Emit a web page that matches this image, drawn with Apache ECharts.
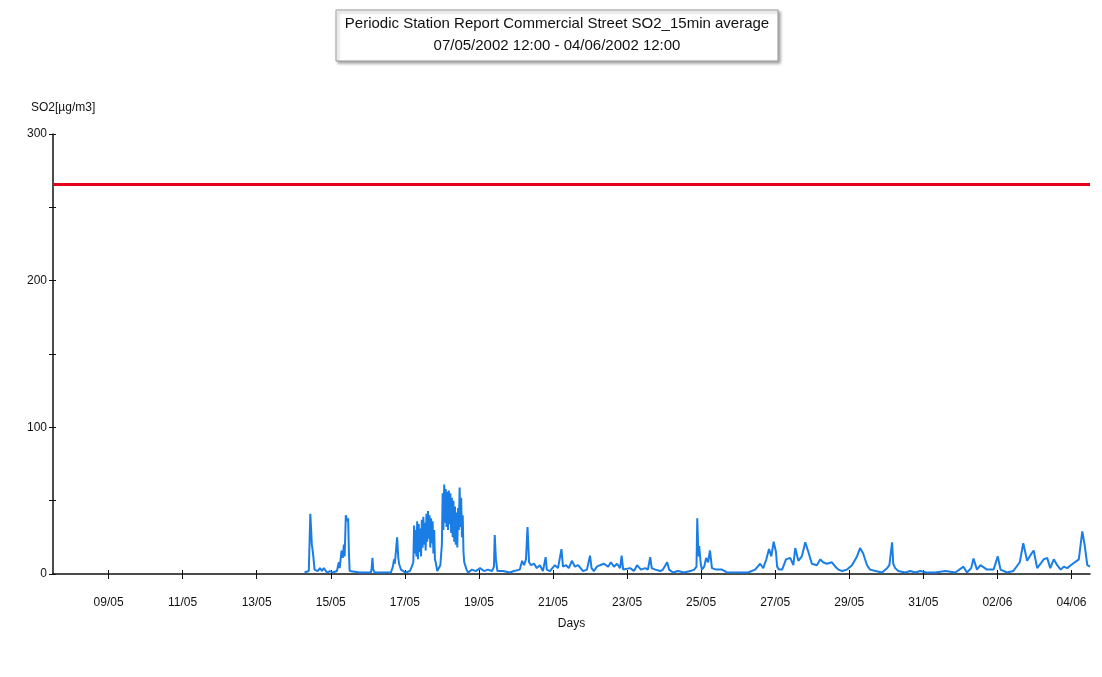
<!DOCTYPE html>
<html>
<head>
<meta charset="utf-8">
<title>Periodic Station Report Commercial Street SO2</title>
<script src="https://cdn.jsdelivr.net/npm/echarts@6/dist/echarts.min.js"></script>
<style>
  html, body { margin: 0; padding: 0; background: #ffffff; }
  #chart { width: 1102px; height: 677px; }
</style>
</head>
<body>
<div id="chart"></div>
<script>
// Report period and title
const reportTitle = 'Periodic Station Report Commercial Street SO2_15min average';
const reportPeriod = '07/05/2002 12:00 - 04/06/2002 12:00';
const periodStart = '07/05 12:00';
const periodEnd = '04/06 12:00';

// Axis labels
const yAxisName = 'SO2[µg/m3]';
const xAxisName = 'Days';
const dayTickLabels = ['09/05', '11/05', '13/05', '15/05', '17/05', '19/05', '21/05',
  '23/05', '25/05', '27/05', '29/05', '31/05', '02/06', '04/06'];

// Alert threshold (µg/m3)
const limitValue = 266;

// SO2 measurements: sample time (dd/mm hh:mm) and concentration (µg/m3)
const sampleTimes = [
  '14/05 07:00', '14/05 09:45', '14/05 10:45', '14/05 11:45', '14/05 12:30', '14/05 13:30',
  '14/05 15:30', '14/05 17:00', '14/05 18:15', '14/05 19:30', '14/05 21:30', '14/05 23:30',
  '15/05 01:15', '15/05 04:00', '15/05 05:15', '15/05 05:45', '15/05 07:00', '15/05 07:45',
  '15/05 08:30', '15/05 09:00', '15/05 09:45', '15/05 10:45', '15/05 11:15', '15/05 11:45',
  '15/05 12:15', '15/05 13:30', '15/05 18:45', '15/05 22:45',
  '16/05 02:00', '16/05 02:30', '16/05 03:00', '16/05 03:30', '16/05 04:30', '16/05 11:00',
  '16/05 15:00', '16/05 16:15', '16/05 17:00', '16/05 17:30', '16/05 19:00', '16/05 19:45',
  '16/05 20:15', '16/05 21:30', '16/05 22:45',
  '17/05 00:30', '17/05 03:15', '17/05 04:30',
  '17/05 05:30', '17/05 06:00', '17/05 06:30', '17/05 07:00', '17/05 07:30', '17/05 08:00',
  '17/05 08:30', '17/05 09:00', '17/05 09:30', '17/05 10:00', '17/05 10:30', '17/05 11:00',
  '17/05 11:30', '17/05 12:00', '17/05 12:30', '17/05 13:00', '17/05 13:30', '17/05 14:00',
  '17/05 14:30', '17/05 15:00', '17/05 15:30', '17/05 16:00', '17/05 16:30', '17/05 17:00',
  '17/05 17:30', '17/05 18:00', '17/05 18:30', '17/05 19:00', '17/05 19:30', '17/05 20:00',
  '17/05 21:00', '17/05 22:00', '17/05 23:00',
  '18/05 00:00', '18/05 00:30', '18/05 01:00', '18/05 01:30', '18/05 02:00', '18/05 02:30',
  '18/05 03:00', '18/05 03:30', '18/05 04:00', '18/05 04:30', '18/05 05:00', '18/05 05:30',
  '18/05 06:00', '18/05 06:30', '18/05 07:00', '18/05 07:30', '18/05 08:00', '18/05 08:30',
  '18/05 09:00', '18/05 09:30', '18/05 10:00', '18/05 10:30', '18/05 11:00', '18/05 11:30',
  '18/05 12:00', '18/05 12:30', '18/05 13:00', '18/05 13:30', '18/05 14:00', '18/05 14:30',
  '18/05 15:00', '18/05 16:00', '18/05 17:00', '18/05 19:30', '18/05 22:00',
  '19/05 00:45', '19/05 03:15', '19/05 05:45', '19/05 08:30', '19/05 09:45', '19/05 10:15',
  '19/05 11:00', '19/05 12:00', '19/05 15:30', '19/05 20:00', '19/05 22:45',
  '20/05 02:30', '20/05 04:00', '20/05 05:15', '20/05 06:30', '20/05 07:30', '20/05 08:30',
  '20/05 09:45', '20/05 11:45', '20/05 13:30', '20/05 15:30', '20/05 17:30', '20/05 19:15',
  '20/05 20:00', '20/05 22:00',
  '21/05 01:15', '21/05 03:15', '21/05 05:30', '21/05 06:30', '21/05 08:30', '21/05 10:15',
  '21/05 12:15', '21/05 14:15', '21/05 16:15', '21/05 19:30', '21/05 22:00', '21/05 23:15',
  '22/05 00:00', '22/05 01:00', '22/05 02:30', '22/05 04:30', '22/05 06:30', '22/05 09:00',
  '22/05 11:45', '22/05 13:30', '22/05 15:30', '22/05 17:30', '22/05 19:30', '22/05 20:30',
  '22/05 21:30', '22/05 22:45',
  '23/05 02:00', '23/05 04:30', '23/05 06:30', '23/05 09:00', '23/05 11:45', '23/05 13:30',
  '23/05 15:00', '23/05 16:00', '23/05 18:15', '23/05 21:30', '23/05 23:15',
  '24/05 02:00', '24/05 03:15', '24/05 05:45', '24/05 09:00', '24/05 13:00', '24/05 17:00',
  '24/05 19:30', '24/05 21:00', '24/05 21:30', '24/05 22:15', '24/05 22:45', '24/05 23:45',
  '25/05 00:30', '25/05 02:00', '25/05 03:15', '25/05 04:30', '25/05 05:45', '25/05 07:00',
  '25/05 09:45', '25/05 13:30', '25/05 17:00', '25/05 20:45', '25/05 23:30',
  '26/05 02:30', '26/05 06:30', '26/05 11:00', '26/05 14:15', '26/05 16:15', '26/05 18:15',
  '26/05 20:00', '26/05 21:30', '26/05 23:00',
  '27/05 00:30', '27/05 01:15', '27/05 02:30', '27/05 04:30', '27/05 07:00', '27/05 09:45',
  '27/05 11:45', '27/05 13:00', '27/05 15:00', '27/05 17:15', '27/05 19:30', '27/05 21:30',
  '27/05 23:45',
  '28/05 03:00', '28/05 05:15', '28/05 07:00', '28/05 09:30', '28/05 12:45', '28/05 15:00',
  '28/05 17:00', '28/05 19:30', '28/05 22:30',
  '29/05 01:45', '29/05 05:00', '29/05 07:00', '29/05 09:00', '29/05 11:30', '29/05 13:30',
  '29/05 17:00', '29/05 21:15',
  '30/05 00:30', '30/05 02:00', '30/05 03:45', '30/05 04:30', '30/05 05:45', '30/05 07:45',
  '30/05 12:15', '30/05 15:30', '30/05 18:45', '30/05 22:00',
  '31/05 02:00', '31/05 07:45', '31/05 14:15', '31/05 20:45',
  '01/06 02:00', '01/06 04:15', '01/06 07:00', '01/06 08:30', '01/06 10:45', '01/06 13:00',
  '01/06 17:15', '01/06 21:30',
  '02/06 00:15', '02/06 02:00', '02/06 06:15', '02/06 10:15', '02/06 14:30', '02/06 16:45',
  '02/06 19:15', '02/06 21:30', '02/06 23:30',
  '03/06 01:45', '03/06 04:00', '03/06 06:00', '03/06 08:15', '03/06 10:15', '03/06 12:30',
  '03/06 14:45', '03/06 17:00', '03/06 19:00', '03/06 21:15', '03/06 23:30',
  '04/06 04:45', '04/06 07:00', '04/06 08:30', '04/06 10:15', '04/06 12:00'
];

const so2Values = [
  1, 2, 41, 20, 14, 3,
  2, 4, 2, 4, 1, 2,
  1, 2, 8, 4, 16, 11,
  20, 12, 40, 36, 38, 15,
  2, 1, 1, 1,
  1, 4, 11, 3, 1, 1,
  1, 5, 10, 7, 25, 11,
  7, 3, 2,
  1, 2, 5,
  8, 33, 14, 30, 12, 36,
  10, 34, 15, 31, 12, 37,
  18, 39, 20, 35, 16, 41,
  22, 43, 24, 40, 18, 38,
  21, 36, 14, 30, 10, 8,
  2, 1, 6,
  20, 55, 30, 61, 35, 58,
  32, 56, 30, 57, 34, 55,
  28, 52, 25, 50, 22, 46,
  20, 42, 18, 45, 30, 59,
  32, 52, 25, 40, 15, 8,
  7, 3, 1, 3, 2,
  4, 2, 3, 2, 5, 26.5,
  10, 2, 2, 1, 2,
  3, 9, 6, 10, 32, 8,
  6, 7, 4, 6, 2, 11.5,
  3, 2,
  6, 4, 17, 5, 6, 4,
  9, 5, 6, 2, 3, 4,
  12.5, 4, 2, 5, 6, 7,
  5, 8, 5, 7, 4, 12.5,
  3, 2,
  4, 2, 6, 3, 4, 3,
  11.5, 4, 3, 2, 3,
  8, 3, 1, 2, 1, 2,
  3, 5, 38, 12, 19, 7,
  3, 5, 11, 8, 16, 4,
  3, 3, 1, 1, 1,
  1, 1, 3, 7, 4, 10,
  17, 12, 22,
  15, 5, 3, 3, 10, 11,
  6, 17.7, 9, 12, 21.6, 15,
  7,
  6, 10, 8, 7, 8, 5,
  3, 2, 3,
  6, 12, 17.7, 14, 6, 3,
  2, 1,
  4, 6, 21.6, 7, 4, 2,
  1, 2, 1, 2,
  1, 1, 2, 1,
  5, 1, 4, 10.5, 3, 6,
  3, 3,
  12, 3, 1, 2, 8, 21,
  9, 13, 16,
  4, 7, 10, 11, 4, 10,
  6, 3, 5, 4, 6,
  10, 29, 20, 6, 5
];

// 'dd/mm hh:mm' -> days since 1 May 2002 00:00
function toDay(s) {
  const [date, time] = s.split(' ');
  const [dd, mm] = date.split('/').map(Number);
  const [hh, mi] = (time || '00:00').split(':').map(Number);
  const dayOfPeriod = (mm === 5 ? dd - 1 : 31 + dd - 1);
  return dayOfPeriod + hh / 24 + mi / 1440;
}

const xMin = toDay(periodStart);
const xMax = toDay(periodEnd);
const tickDays = dayTickLabels.map(l => toDay(l));
const seriesData = sampleTimes.map((t, i) => [toDay(t), so2Values[i]]);

function dayLabel(v) {
  const i = tickDays.findIndex(d => Math.abs(d - v) < 1e-6);
  return i >= 0 ? dayTickLabels[i] : '';
}

const FONT = 'Liberation Sans, Arial, sans-serif';
const chart = echarts.init(document.getElementById('chart'), null, { renderer: 'canvas' });

const baseX = {
  type: 'value', min: xMin, max: xMax,
  splitLine: { show: false }
};
const baseY = {
  type: 'value', min: 0, max: 300, interval: 50,
  splitLine: { show: false }
};

chart.setOption({
  animation: false,
  backgroundColor: '#ffffff',
  grid: { left: 53, right: 12, top: 134, bottom: 103, containLabel: false },
  graphic: [
    {
      type: 'rect',
      shape: { x: 336, y: 10, width: 442, height: 51 },
      style: {
        fill: '#ffffff', stroke: '#9a9a9a', lineWidth: 1,
        shadowColor: 'rgba(0,0,0,0.35)', shadowBlur: 3, shadowOffsetX: 2, shadowOffsetY: 2
      },
      z: 10
    },
    {
      type: 'text', x: 557, y: 24, z: 11,
      style: { text: reportTitle, font: '15px ' + FONT, fill: '#111', align: 'center', verticalAlign: 'middle' }
    },
    {
      type: 'text', x: 557, y: 46, z: 11,
      style: { text: reportPeriod, font: '15px ' + FONT, fill: '#111', align: 'center', verticalAlign: 'middle' }
    }
  ],
  xAxis: [
    Object.assign({}, baseX, {
      position: 'bottom',
      name: xAxisName, nameLocation: 'middle', nameGap: 44,
      nameTextStyle: { fontFamily: FONT, fontSize: 12, color: '#111' },
      axisLine: { show: true, onZero: false, lineStyle: { color: '#111', width: 1.5 } },
      axisTick: { show: true, inside: false, length: 5, customValues: tickDays, lineStyle: { color: '#111' } },
      axisLabel: {
        show: true, customValues: tickDays, margin: 23,
        fontFamily: FONT, fontSize: 12, color: '#111', formatter: dayLabel
      }
    }),
    Object.assign({}, baseX, {
      position: 'bottom',
      axisLine: { show: false },
      axisTick: { show: true, inside: true, length: 4, customValues: tickDays, lineStyle: { color: '#111' } },
      axisLabel: { show: false }
    })
  ],
  yAxis: [
    Object.assign({}, baseY, {
      position: 'left',
      name: yAxisName, nameLocation: 'end', nameGap: 20,
      nameTextStyle: { fontFamily: FONT, fontSize: 12, color: '#111', align: 'left', padding: [0, 0, 0, -22] },
      axisLine: { show: true, onZero: false, lineStyle: { color: '#111', width: 1.5 } },
      axisTick: { show: true, inside: false, length: 4, lineStyle: { color: '#111' } },
      axisLabel: {
        show: true, margin: 6, fontFamily: FONT, fontSize: 12, color: '#111',
        formatter: v => (v % 100 === 0 ? String(v) : '')
      }
    }),
    Object.assign({}, baseY, {
      position: 'left',
      axisLine: { show: false },
      axisTick: { show: true, inside: true, length: 3, lineStyle: { color: '#111' } },
      axisLabel: { show: false }
    })
  ],
  series: [
    {
      name: 'SO2',
      type: 'line',
      xAxisIndex: 0, yAxisIndex: 0,
      data: seriesData,
      showSymbol: false,
      symbol: 'none',
      lineStyle: { color: '#1a7de6', width: 2 },
      z: 3,
      markLine: {
        silent: true,
        symbol: 'none',
        label: { show: false },
        lineStyle: { color: '#e6001a', width: 3, type: 'solid' },
        data: [{ yAxis: limitValue }]
      }
    }
  ]
});
</script>
</body>
</html>
